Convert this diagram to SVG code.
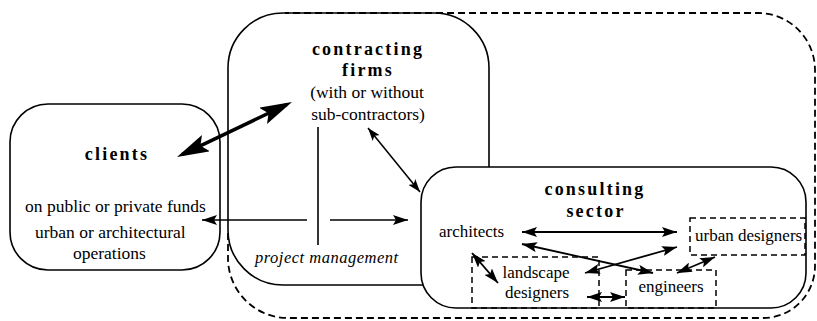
<svg xmlns="http://www.w3.org/2000/svg" width="817" height="321" viewBox="0 0 817 321">
<style>
.box{fill:none;stroke:#000;stroke-width:1.6}
.wbox{fill:#fff;stroke:#000;stroke-width:1.6}
.dash{fill:none;stroke:#000;stroke-width:1.8;stroke-dasharray:7 4}
.sdash{fill:none;stroke:#000;stroke-width:1.5;stroke-dasharray:6 4}
.ln{fill:none;stroke:#000;stroke-width:1.6}
.head{font-family:"Liberation Serif","Times New Roman",serif;font-weight:bold;font-size:18px;letter-spacing:2.2px;text-anchor:middle}
.t{font-family:"Liberation Serif","Times New Roman",serif;font-size:17.5px}
.s{font-family:"Liberation Serif","Times New Roman",serif;font-size:17px}
.it{font-family:"Liberation Serif","Times New Roman",serif;font-style:italic;font-size:16.5px;letter-spacing:0.5px}
</style>
<defs>
<marker id="hb" viewBox="0 0 32 18" refX="26" refY="9" markerWidth="32" markerHeight="18" markerUnits="userSpaceOnUse" orient="auto-start-reverse"><path d="M0,0 L32,9 L0,18 L6,9 z"/></marker>
<marker id="hm" viewBox="0 0 15 10" refX="15" refY="5" markerWidth="15" markerHeight="10" markerUnits="userSpaceOnUse" orient="auto-start-reverse"><path d="M0,0 L15,5 L0,10 L3,5 z"/></marker>
<marker id="hs" viewBox="0 0 13 9" refX="13" refY="4.5" markerWidth="13" markerHeight="9" markerUnits="userSpaceOnUse" orient="auto-start-reverse"><path d="M0,0 L13,4.5 L0,9 L3,4.5 z"/></marker>
</defs>
<rect width="817" height="321" fill="#fff"/>
<g id="outline">
<path class="dash" d="M228,233 L228,258 A60,60 0 0 0 288,318 L763,318 A52,52 0 0 0 815,266 L815,70 A57,57 0 0 0 758,13 L285,13"/>
</g>
<g id="contracting">
<rect class="box" x="228" y="13" width="261" height="272" rx="55"/>
<text class="head" x="368" y="55">contracting</text>
<text class="head" x="368" y="76">firms</text>
<text class="t" x="367" y="98" text-anchor="middle">(with or without</text>
<text class="t" x="368" y="120" text-anchor="middle">sub-contractors)</text>
<text class="it" x="255" y="263">project management</text>
</g>
<g id="clients">
<rect class="box" x="10" y="104" width="210" height="166" rx="38"/>
<text class="head" x="117" y="160">clients</text>
<text class="t" x="25" y="212">on public or private funds</text>
<text class="t" x="35" y="238">urban or architectural</text>
<text class="t" x="73" y="259">operations</text>
</g>
<g id="consulting">
<rect class="wbox" x="421" y="167" width="385" height="141" rx="35"/>
<text class="head" x="595" y="195">consulting</text>
<text class="head" x="596" y="217">sector</text>
</g>
<g id="architects">
<text class="s" x="439" y="237">architects</text>
</g>
<g id="urban-designers">
<rect class="sdash" x="690" y="218" width="115" height="37"/>
<text class="s" x="695" y="241">urban designers</text>
</g>
<g id="landscape-designers">
<rect class="sdash" x="472" y="257" width="127" height="51"/>
<text class="s" x="536" y="278" text-anchor="middle">landscape</text>
<text class="s" x="537" y="298" text-anchor="middle">designers</text>
</g>
<g id="engineers">
<rect class="sdash" x="626" y="270" width="90" height="38"/>
<text class="s" x="671" y="292" text-anchor="middle">engineers</text>
</g>
<g id="connectors">
<line class="ln" x1="182.4" y1="154.4" x2="286.6" y2="104.6" style="stroke-width:3.5" marker-start="url(#hb)" marker-end="url(#hb)"/>
<line class="ln" x1="368" y1="128" x2="420" y2="192" style="stroke-width:1.5" marker-start="url(#hs)" marker-end="url(#hs)"/>
<line class="ln" x1="318" y1="127" x2="318" y2="245"/>
<line class="ln" x1="307" y1="220" x2="202" y2="220" marker-end="url(#hm)"/>
<line class="ln" x1="330" y1="220" x2="408" y2="220" marker-end="url(#hm)"/>
<line class="ln" x1="522" y1="232" x2="677" y2="232" style="stroke-width:2" marker-start="url(#hm)" marker-end="url(#hm)"/>
<line class="ln" x1="522" y1="244" x2="653" y2="273" style="stroke-width:1.8" marker-start="url(#hm)" marker-end="url(#hm)"/>
<line class="ln" x1="677" y1="247" x2="585" y2="273" style="stroke-width:1.8" marker-start="url(#hm)" marker-end="url(#hm)"/>
<line class="ln" x1="472" y1="253" x2="498" y2="283" style="stroke-width:1.8" marker-start="url(#hm)" marker-end="url(#hm)"/>
<line class="ln" x1="715" y1="257" x2="677" y2="273" style="stroke-width:1.8" marker-start="url(#hm)" marker-end="url(#hm)"/>
<line class="ln" x1="587" y1="297" x2="625" y2="297" style="stroke-width:2" marker-start="url(#hm)" marker-end="url(#hm)"/>
</g>
</svg>
